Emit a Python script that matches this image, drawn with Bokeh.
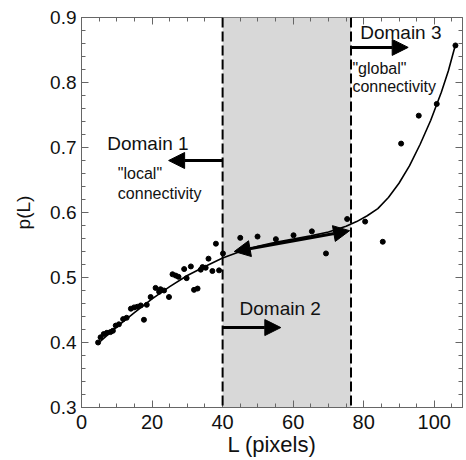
from bokeh.plotting import figure
from bokeh.models import (BoxAnnotation, Span, Arrow, NormalHead,
                          LinearAxis, FixedTicker, Label, Range1d)
from bokeh.embed import file_html
from bokeh.resources import INLINE

# ---- data ----
L_pts = [4.7, 5.4, 6.3, 7.2, 8.2, 8.9, 9.7, 10.6, 11.8, 12.8, 14.0, 14.9, 15.8, 16.8,
         17.7, 18.5, 19.6, 21.0, 22.0, 22.4, 23.4, 24.8, 25.8, 26.7, 27.5, 29.1, 29.8,
         31.0, 31.9, 32.9, 33.8, 34.3, 35.2, 36.0, 37.1, 38.1, 39.0, 40.1, 45.0, 49.9,
         55.1, 60.1, 65.3, 69.3, 75.3, 80.4, 85.4, 90.6, 95.6, 100.7, 106.0]
p_pts = [0.400, 0.408, 0.413, 0.415, 0.416, 0.418, 0.426, 0.428, 0.436, 0.438, 0.452,
         0.454, 0.455, 0.457, 0.435, 0.458, 0.470, 0.484, 0.478, 0.482, 0.480, 0.470,
         0.505, 0.503, 0.501, 0.513, 0.499, 0.517, 0.481, 0.483, 0.512, 0.516, 0.515,
         0.529, 0.510, 0.552, 0.511, 0.537, 0.561, 0.563, 0.559, 0.565, 0.571, 0.537,
         0.590, 0.586, 0.555, 0.706, 0.749, 0.767, 0.857]

L_fit = [5, 10, 15, 20, 25, 30, 35, 40, 45, 50, 55, 60, 65, 70, 75, 78, 81, 84, 87,
         90, 93, 96, 99, 102, 104, 106]
p_fit = [0.400, 0.424, 0.446, 0.467, 0.486, 0.503, 0.517, 0.530, 0.540, 0.548, 0.554,
         0.559, 0.564, 0.570, 0.579, 0.586, 0.595, 0.606, 0.623, 0.645, 0.672, 0.705,
         0.742, 0.785, 0.818, 0.858]

domain_bounds = [40, 76.4]
x_ticks = [0, 20, 40, 60, 80, 100]
x_minor = [0, 5, 10, 15, 20, 25, 30, 35, 40, 45, 50, 55, 60, 65, 70, 75, 80, 85, 90,
           95, 100, 105]
y_ticks = [0.3, 0.4, 0.5, 0.6, 0.7, 0.8, 0.9]
y_minor = [round(0.3 + 0.02 * i, 2) for i in range(31)]

# annotation arrows: (x_start, y_start, x_end, y_end)
arrow_d1 = (40, 0.680, 24.7, 0.680)
arrow_d2 = (40, 0.423, 56.5, 0.423)
arrow_d3 = (76.4, 0.854, 92.6, 0.854)
arrow_mid = (43.3, 0.540, 76.0, 0.572)

# annotation texts: (x, y, text, size)
texts = [
    (7.3, 0.706, "Domain 1", "19px"),
    (10.3, 0.660, '"local"', "16px"),
    (10.3, 0.629, "connectivity", "16px"),
    (44.8, 0.452, "Domain 2", "19px"),
    (79.0, 0.877, "Domain 3", "19px"),
    (76.8, 0.822, '"global"', "16px"),
    (76.8, 0.794, "connectivity", "16px"),
]

FONT = "Liberation Sans"
AX = "#666666"

p = figure(width=466, height=460, output_backend="svg", toolbar_location=None,
           x_range=Range1d(0, 108), y_range=Range1d(0.3, 0.9),
           min_border_left=81, min_border_top=17, min_border_right=4,
           min_border_bottom=53)
p.xgrid.visible = False
p.ygrid.visible = False
p.outline_line_color = AX
p.background_fill_color = "white"

p.add_layout(BoxAnnotation(left=domain_bounds[0], right=domain_bounds[1],
                           fill_color="#d8d8d8", fill_alpha=1.0, line_color=None,
                           level="underlay"))
for xb in domain_bounds:
    p.add_layout(Span(location=xb, dimension="height", line_color="black",
                      line_width=2, line_dash="10 4"))

p.line(L_fit, p_fit, line_color="black", line_width=1.6)
p.scatter(L_pts, p_pts, size=5, color="black")

def mk_arrow(a, both=False):
    kw = dict(x_start=a[0], y_start=a[1], x_end=a[2], y_end=a[3],
              line_width=3, line_color="black",
              end=NormalHead(size=16, fill_color="black", line_color="black"))
    kw["start"] = NormalHead(size=16, fill_color="black", line_color="black") if both else None
    p.add_layout(Arrow(**kw))

mk_arrow(arrow_d1)
mk_arrow(arrow_d2)
mk_arrow(arrow_d3)
mk_arrow(arrow_mid, both=True)

for (tx, ty, tt, ts) in texts:
    p.add_layout(Label(x=tx, y=ty, text=tt, text_font=FONT, text_font_size=ts,
                       text_baseline="middle", text_align="left", text_color="#111111"))

def style_axis(ax, ticks, minor, fs="19px"):
    ax.ticker = FixedTicker(ticks=ticks, minor_ticks=minor)
    ax.axis_line_color = AX
    ax.major_tick_line_color = AX
    ax.minor_tick_line_color = AX
    ax.major_tick_in = 7
    ax.major_tick_out = 0
    ax.minor_tick_in = 4
    ax.minor_tick_out = 0
    ax.major_label_text_font = FONT
    ax.major_label_text_color = "#111111"
    ax.major_label_text_font_size = fs

style_axis(p.xaxis[0], x_ticks, x_minor, fs="20px")
p.xaxis[0].major_label_standoff = 7
p.xaxis[0].axis_label = "L (pixels)"
p.xaxis[0].axis_label_text_font = FONT
p.xaxis[0].axis_label_text_font_size = "22px"
p.xaxis[0].axis_label_text_font_style = "normal"
p.xaxis[0].axis_label_text_color = "#111111"
p.xaxis[0].axis_label_standoff = 0

style_axis(p.yaxis[0], y_ticks, y_minor, fs="19px")
p.yaxis[0].major_label_standoff = 5
p.yaxis[0].axis_label = "p(L)"
p.yaxis[0].axis_label_text_font = FONT
p.yaxis[0].axis_label_text_font_size = "19px"
p.yaxis[0].axis_label_text_font_style = "normal"
p.yaxis[0].axis_label_text_color = "#111111"
p.yaxis[0].axis_label_standoff = 13

# top and right frame ticks without labels: axes carrying only "minor" ticks
def tick_only_axis(positions, length, side):
    ax = LinearAxis(ticker=FixedTicker(ticks=[], minor_ticks=positions))
    ax.axis_line_color = None
    ax.major_tick_line_color = None
    ax.minor_tick_line_color = AX
    ax.minor_tick_in = length
    ax.minor_tick_out = 0
    ax.major_tick_in = 0
    ax.major_tick_out = 0
    ax.major_label_standoff = 0
    p.add_layout(ax, side)

tick_only_axis(x_minor, 4, "above")
tick_only_axis(x_ticks, 7, "above")
tick_only_axis(y_minor, 4, "right")
tick_only_axis(y_ticks, 7, "right")

open("out.html", "w").write(file_html(p, INLINE))
